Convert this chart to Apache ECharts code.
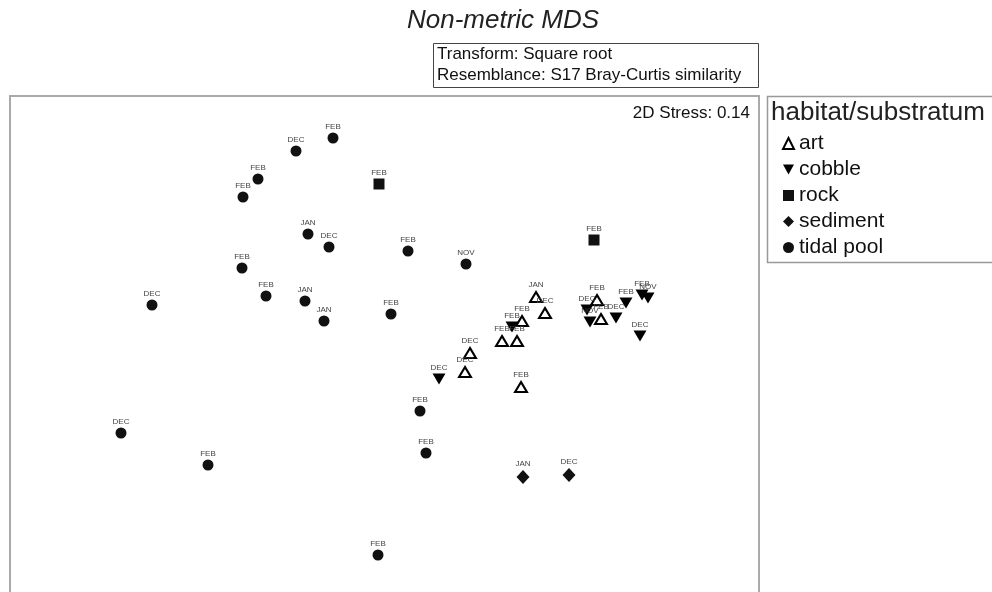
<!DOCTYPE html>
<html>
<head>
<meta charset="utf-8">
<script src="https://cdn.jsdelivr.net/npm/echarts@6/dist/echarts.min.js"></script>
<style>
  html, body { margin: 0; padding: 0; background: #fff; }
  #chart { width: 992px; height: 592px; }
</style>
</head>
<body>
<div id="chart"></div>
<script>
// MDS coordinates: [x, y, month]
const art = [
  [1.51, 0.49, "JAN"], [1.60, 0.33, "DEC"], [1.37, 0.25, "FEB"],
  [1.17, 0.05, "FEB"], [1.32, 0.05, "FEB"], [0.85, -0.07, "DEC"],
  [0.80, -0.26, "DEC"], [1.36, -0.41, "FEB"], [2.12, 0.46, "FEB"],
  [2.16, 0.27, "FEB"]
];
const cobble = [
  [1.27, 0.19, "FEB"], [0.54, -0.33, "DEC"], [2.02, 0.36, "DEC"],
  [2.05, 0.24, "NOV"], [2.31, 0.28, "DEC"], [2.41, 0.43, "FEB"],
  [2.57, 0.51, "FEB"], [2.63, 0.48, "NOV"], [2.55, 0.10, "DEC"]
];
const rock = [
  [-0.06, 1.62, "FEB"], [2.09, 1.06, "FEB"]
];
const sediment = [
  [1.38, -1.31, "JAN"], [1.84, -1.29, "DEC"]
];
const tidalPool = [
  [-0.52, 2.08, "FEB"], [-0.89, 1.95, "DEC"], [-1.27, 1.67, "FEB"],
  [-1.42, 1.49, "FEB"], [-0.77, 1.12, "JAN"], [-0.56, 0.99, "DEC"],
  [-1.43, 0.78, "FEB"], [-1.19, 0.50, "FEB"], [-0.80, 0.45, "JAN"],
  [-0.61, 0.25, "JAN"], [-2.33, 0.41, "DEC"], [0.23, 0.95, "FEB"],
  [0.81, 0.82, "NOV"], [0.06, 0.32, "FEB"], [0.35, -0.65, "FEB"],
  [0.41, -1.07, "FEB"], [-2.64, -0.87, "DEC"], [-1.77, -1.19, "FEB"],
  [-0.07, -2.09, "FEB"]
];
const stress = 0.14;

const font = "'Liberation Sans', Arial, sans-serif";
const chart = echarts.init(document.getElementById("chart"));

// 공통 라벨 스타일
const pointLabel = {
  show: true,
  position: "top",
  distance: 2,
  fontSize: 8,
  fontFamily: font,
  color: "#444",
  formatter: (p) => p.value[2]
};

function makeSeries(name, data, symbol, size, style, rotate) {
  return {
    name: name,
    type: "scatter",
    data: data,
    symbol: symbol,
    symbolSize: size,
    symbolRotate: rotate || 0,
    itemStyle: Object.assign({ opacity: 1 }, style),
    label: pointLabel,
    emphasis: { disabled: true },
    z: 3
  };
}

const option = {
  animation: false,
  backgroundColor: "#fff",
  grid: {
    left: 10,
    top: 96,
    width: 749,
    height: 500,
    outerBoundsMode: "none",
    show: true,
    borderColor: "#aaa",
    borderWidth: 2,
    containLabel: false
  },
  xAxis: {
    type: "value",
    min: -3.75,
    max: 3.74,
    axisLine: { show: false },
    axisTick: { show: false },
    axisLabel: { show: false },
    splitLine: { show: false }
  },
  yAxis: {
    type: "value",
    min: -2.5,
    max: 2.5,
    axisLine: { show: false },
    axisTick: { show: false },
    axisLabel: { show: false },
    splitLine: { show: false }
  },
  legend: {
    orient: "vertical",
    left: 782,
    top: 133,
    padding: 0,
    itemWidth: 11,
    itemHeight: 11,
    itemGap: 5,
    selectedMode: false,
    textStyle: { fontSize: 21, lineHeight: 21, fontFamily: font, color: "#111" },
    data: [
      "art",
      { name: "cobble", icon: "path://M0,0 L12,0 L6,11 Z" },
      "rock",
      "sediment",
      "tidal pool"
    ]
  },
  graphic: [
    {
      type: "text",
      x: 503, y: 21,
      style: {
        text: "Non-metric MDS", font: "italic 26px " + font, fill: "#222",
        align: "center", verticalAlign: "middle"
      }
    },
    {
      type: "rect",
      shape: { x: 433.5, y: 43.5, width: 325, height: 44 },
      style: { fill: "#fff", stroke: "#444", lineWidth: 1 }
    },
    {
      type: "text",
      x: 437, y: 54,
      style: { text: "Transform: Square root", font: "17px " + font, fill: "#111", verticalAlign: "middle" }
    },
    {
      type: "text",
      x: 437, y: 75,
      style: { text: "Resemblance: S17 Bray-Curtis similarity", font: "17px " + font, fill: "#111", verticalAlign: "middle" }
    },
    {
      type: "text",
      x: 750, y: 113,
      style: { text: "2D Stress: " + stress.toFixed(2), font: "17px " + font, fill: "#111", align: "right", verticalAlign: "middle" }
    },
    {
      type: "rect",
      shape: { x: 767.5, y: 96.5, width: 240, height: 166 },
      style: { fill: "none", stroke: "#999", lineWidth: 1.5 }
    },
    {
      type: "text",
      x: 771, y: 113,
      style: { text: "habitat/substratum", font: "26px " + font, fill: "#222", verticalAlign: "middle" }
    }
  ],
  series: [
    makeSeries("art", art, "triangle", [12, 10],
      { color: "#fff", borderColor: "#000", borderWidth: 2 }),
    makeSeries("cobble", cobble, "triangle", [13, 11],
      { color: "#000" }, 180),
    makeSeries("rock", rock, "rect", 11, { color: "#111" }),
    makeSeries("sediment", sediment, "diamond", [13, 14], { color: "#111" }),
    makeSeries("tidal pool", tidalPool, "circle", 11, { color: "#111" })
  ]
};

chart.setOption(option);
</script>
</body>
</html>
